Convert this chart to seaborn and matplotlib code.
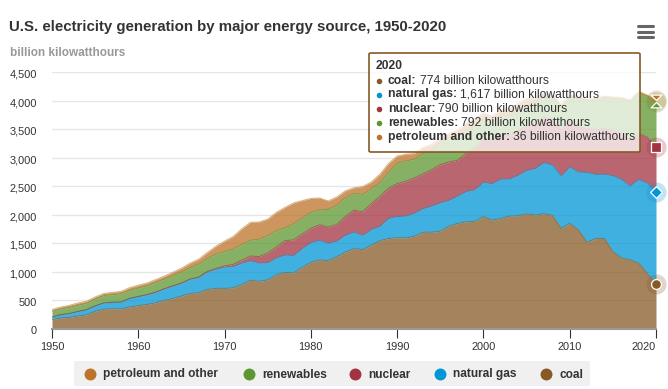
import numpy as np
import pandas as pd
import seaborn as sns
import matplotlib
matplotlib.use("Agg")
import matplotlib.pyplot as plt
from matplotlib.lines import Line2D
from matplotlib.patches import FancyBboxPatch, Rectangle
from matplotlib.path import Path
from matplotlib.transforms import ScaledTranslation

years = list(range(1950, 2021))
coal = [155, 185, 195, 218, 239, 301, 339, 346, 344, 378, 403, 422, 450, 494, 526, 571, 613, 630, 685, 706,
        704, 713, 771, 848, 828, 853, 944, 985, 976, 1075, 1162, 1203, 1192, 1259, 1342, 1402, 1386, 1464, 1541, 1581,
        1594, 1592, 1621, 1690, 1691, 1709, 1796, 1845, 1874, 1881, 1966, 1904, 1933, 1974, 1978, 2013, 1991, 2016, 1986, 1756,
        1847, 1733, 1514, 1581, 1582, 1352, 1239, 1206, 1149, 965, 774]
natural_gas = [45, 57, 68, 80, 90, 95, 110, 113, 120, 150, 158, 170, 184, 200, 220, 222, 250, 265, 305, 333,
               373, 374, 376, 341, 320, 300, 295, 306, 305, 329, 346, 346, 305, 274, 297, 292, 249, 273, 253, 352,
               373, 382, 405, 415, 460, 496, 455, 479, 531, 556, 601, 639, 691, 650, 711, 761, 816, 897, 883, 921,
               988, 1014, 1226, 1125, 1127, 1333, 1378, 1296, 1469, 1586, 1617]
nuclear = [0, 0, 0, 0, 0, 0, 0, 0, 0, 0, 1, 2, 2, 3, 3, 4, 6, 8, 13, 14,
           22, 38, 54, 83, 114, 173, 191, 251, 276, 255, 251, 273, 283, 294, 328, 384, 414, 455, 527, 529,
           577, 613, 619, 610, 640, 673, 675, 629, 673, 728, 754, 769, 780, 764, 788, 782, 787, 806, 806, 799,
           807, 790, 769, 789, 797, 797, 806, 805, 807, 809, 790]
renewables = [100, 104, 110, 110, 112, 120, 130, 134, 148, 142, 149, 155, 172, 169, 180, 196, 198, 224, 226, 253,
              251, 270, 277, 277, 307, 305, 288, 226, 283, 283, 279, 263, 312, 337, 330, 293, 306, 262, 238, 278,
              357, 355, 327, 353, 338, 384, 422, 433, 396, 396, 356, 288, 344, 355, 351, 358, 386, 352, 381, 417,
              427, 513, 492, 522, 546, 556, 609, 687, 714, 720, 792]
petroleum = [34, 29, 33, 39, 37, 37, 36, 40, 40, 47, 48, 49, 49, 52, 57, 65, 79, 89, 104, 138,
             184, 220, 274, 314, 301, 289, 320, 358, 365, 304, 246, 206, 147, 144, 120, 100, 137, 118, 149, 158,
             127, 119, 100, 113, 105, 75, 82, 93, 128, 118, 111, 125, 95, 119, 121, 122, 64, 65, 46, 39,
             37, 30, 23, 27, 30, 28, 24, 21, 25, 18, 36]

series_names = ["coal", "natural gas", "nuclear", "renewables", "petroleum and other"]
colors = ["#875a25", "#0096d7", "#a33340", "#5d9732", "#bd732a"]
legend_order = ["petroleum and other", "renewables", "nuclear", "natural gas", "coal"]
legend_text_x = [103, 262, 368, 453, 559]
y_ticks = [0, 500, 1000, 1500, 2000, 2500, 3000, 3500, 4000, 4500]
x_ticks = [1950, 1960, 1970, 1980, 1990, 2000, 2010, 2020]

title = "U.S. electricity generation by major energy source, 1950-2020"
unit = "billion kilowatthours"

W, H = 668, 389


def fx(px):
    return px / W


def fy(py):
    return 1 - py / H


sns.set_theme(style="white")
plt.rcParams["font.family"] = ["Liberation Sans", "DejaVu Sans"]

df = pd.DataFrame(dict(zip(series_names, [coal, natural_gas, nuclear, renewables, petroleum])), index=years)
tops = df.cumsum(axis=1)
long = tops.rename_axis("year").reset_index().melt("year", var_name="source", value_name="top")

fig = plt.figure(figsize=(W / 100, H / 100), dpi=100)
ax = fig.add_axes([fx(52), fy(328.5), fx(656) - fx(52), fy(72.3) - fy(328.5)])

bottom = np.zeros(len(years))
for name, c in zip(series_names, colors):
    ax.fill_between(years, bottom, tops[name].values, color=c, alpha=0.75, lw=0, zorder=2)
    bottom = tops[name].values

sns.lineplot(data=long, x="year", y="top", hue="source", hue_order=series_names, palette=colors,
             lw=0.8, alpha=0.55, legend=False, ax=ax, zorder=3)

ax.set_xlim(1950, 2020)
ax.set_ylim(0, 4500)
ax.set_xticks(x_ticks)
ax.set_yticks(y_ticks)
ax.set_yticklabels([f"{v:,}" for v in y_ticks])
ax.grid(axis="y", color="#e6e6e6", lw=1, zorder=1)
ax.set_axisbelow(True)
for s in ["top", "left", "right"]:
    ax.spines[s].set_visible(False)
ax.spines["bottom"].set_color("#999999")
ax.spines["bottom"].set_linewidth(1.5)
ax.tick_params(axis="y", length=0, pad=10.8, labelsize=7.9, labelcolor="#333333")
ax.tick_params(axis="x", length=6.5, width=0.8, color="#333333", pad=3, labelsize=7.9, labelcolor="#333333", bottom=True)
for lab in ax.get_yticklabels():
    lab.set_transform(lab.get_transform() + ScaledTranslation(0, -1.5 / 100, fig.dpi_scale_trans))
ax.get_xticklabels()[-1].set_ha("right")

# end of series markers, the top two meet as an hourglass
ends = tops.iloc[-1]
hour_low = Path([(-1, -1), (1, -1), (0, 0), (-1, -1)], closed=True)
hour_high = Path([(-1, 1), (1, 1), (0, 0), (-1, 1)], closed=True)
marks = ["o", "D", "s", hour_low, hour_high]
sizes = [50, 36, 55, 60, 60]
for name, c, m, size in zip(series_names, colors, marks, sizes):
    ax.scatter([years[-1]], [ends[name]], s=210, color=c, alpha=0.25, lw=0, clip_on=False, zorder=6)
    sns.scatterplot(x=[years[-1]], y=[ends[name]], marker=m, s=size, color=c, edgecolor="white",
                    linewidth=0.9, clip_on=False, legend=False, ax=ax, zorder=7)

ax.set_xlabel("")
ax.set_ylabel("")

fig.text(fx(9), fy(27), title, fontsize=10.85, fontweight="bold", color="#333333", va="center", ha="left")
fig.text(fx(10), fy(53), unit, fontsize=8.5, fontweight="bold", color="#999999", va="center", ha="left")

# menu icon
for py in [26, 31.5, 37]:
    fig.add_artist(Line2D([fx(637.5), fx(652.5)], [fy(py), fy(py)], color="#666666", lw=2.2, solid_capstyle="round"))

# legend
fig.add_artist(Rectangle((fx(74), fy(386)), fx(590) - fx(74), fy(361) - fy(386), transform=fig.transFigure,
                         facecolor="#f0f0f0", edgecolor="none"))
legend_colors = dict(zip(series_names, colors))
for name, px in zip(legend_order, legend_text_x):
    fig.add_artist(Line2D([fx(px - 13)], [fy(374)], marker="o", ms=8.6, color=legend_colors[name], mew=0, ls=""))
    fig.text(fx(px), fy(374.5), name, fontsize=8.55, fontweight="bold", color="#333333", va="center", ha="left")

# tooltip
fig.add_artist(FancyBboxPatch((fx(369), fy(152)), fx(640) - fx(369), fy(53) - fy(152), transform=fig.transFigure,
                              boxstyle="round,pad=0,rounding_size=0.003", facecolor=(1, 1, 1, 0.75),
                              edgecolor="#875a25", lw=1.2, zorder=10))
fig.text(fx(375.5), fy(66), str(years[-1]), fontsize=8.7, fontweight="bold", color="#333333", va="center", zorder=11)
renderer = fig.canvas.get_renderer()
for i, (name, c) in enumerate(zip(series_names, colors)):
    py = 80.5 + i * 14
    fig.add_artist(Line2D([fx(379)], [fy(py)], marker="o", ms=4, color=c, mew=0, ls="", zorder=11))
    t = fig.text(fx(388), fy(py), name + ":", fontsize=8.7, fontweight="bold", color="#333333", va="center", zorder=11)
    x1 = t.get_window_extent(renderer).x1
    fig.text(x1 / W + fx(3), fy(py), f"{df[name].iloc[-1]:,} {unit}", fontsize=8.7, color="#333333",
             va="center", zorder=11)

fig.savefig("out.png", dpi=100)
